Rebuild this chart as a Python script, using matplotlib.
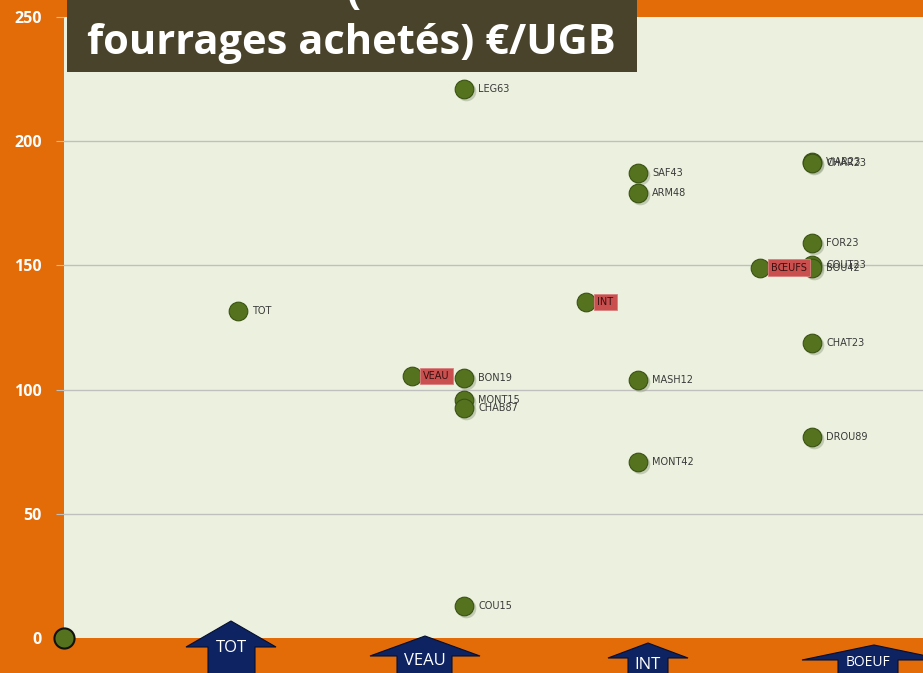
import numpy as np
import matplotlib.pyplot as plt
from matplotlib.patches import Polygon, Rectangle

W, H = 923, 673

# farms: x position, value, label
farm_x = [2.3, 2.3, 2.3, 2.3, 2.3,
          3.3, 3.3, 3.3, 3.3,
          4.3, 4.3, 4.3, 4.3, 4.3, 4.3, 4.3]
farm_y = [221.0, 104.7, 95.8, 92.6, 12.9,
          187.2, 179.1, 103.9, 70.9,
          191.6, 191.2, 159.0, 150.2, 149.0, 118.8, 80.9]
farm_names = ['LEG63', 'BON19', 'MONT15', 'CHAB87', 'COU15',
              'SAF43', 'ARM48', 'MASH12', 'MONT42',
              'VIAR23', 'CHAR23', 'FOR23', 'COUT23', 'BOU42', 'CHAT23', 'DROU89']

# group averages
avg_x = [1, 2, 3, 4]
avg_y = [131.6, 105.5, 135.3, 149.0]
avg_names = ['TOT', 'VEAU', 'INT', 'BŒUFS']
avg_boxed = [False, True, True, True]

yticks = [0, 50, 100, 150, 200, 250]
arrow_labels = ['TOT', 'VEAU', 'INT', 'BOEUF']

orange = '#E36C09'
plot_bg = '#EBF1DE'
dot = '#55731F'
dot_edge = '#3A5212'
navy = '#0E2361'

fig = plt.figure(figsize=(W / 100, H / 100), dpi=100)
fig.patch.set_facecolor(orange)

def fx(px):
    return px / W

def fy(py):
    return 1 - py / H

ax = fig.add_axes([fx(64), fy(638), 1 - fx(64), fy(17) - fy(638)])
ax.set_facecolor(plot_bg)
ax.set_xlim(0, (W - 64) / 174)
ax.set_ylim(0, 250)
for s in ax.spines.values():
    s.set_visible(False)
ax.set_xticks([])
ax.set_yticks(yticks)
ax.set_yticklabels([str(t) for t in yticks], color='white', fontsize=11.5,
                   fontweight='bold', family='Open Sans')
ax.tick_params(axis='y', length=6, color='#BFBFBF', pad=10)
for t in yticks[1:-1]:
    ax.axhline(t, color='#BFBFBF', lw=1, zorder=1)

# shadow + dots
ax.scatter(np.array(farm_x) + 0.012, np.array(farm_y) - 0.9, s=200, color='#9aa58a',
           alpha=0.5, zorder=2, lw=0)
ax.scatter(farm_x, farm_y, s=180, color=dot, edgecolor=dot_edge, lw=0.8, zorder=3)
ax.scatter(avg_x, avg_y, s=180, color=dot, edgecolor=dot_edge, lw=0.8, zorder=3)
ax.scatter([0], [0], s=210, color=dot, edgecolor='#111111', lw=1.5, zorder=4,
           clip_on=False)

for x, y, n in zip(farm_x, farm_y, farm_names):
    ax.annotate(n, (x, y), xytext=(10, 0), textcoords='offset points',
                va='center', ha='left', fontsize=7, color='#3A3A3A', zorder=5)

for x, y, n, b in zip(avg_x, avg_y, avg_names, avg_boxed):
    if b:
        ax.annotate(n, (x, y), xytext=(8, 0), textcoords='offset points',
                    va='center', ha='left', fontsize=7, color='#3A1010', zorder=5,
                    bbox=dict(boxstyle='square,pad=0.35', fc='#C9504F', ec='#D98080', lw=0.6))
    else:
        ax.annotate(n, (x, y), xytext=(10, 0), textcoords='offset points',
                    va='center', ha='left', fontsize=7, color='#3A3A3A', zorder=5)

# title box
fig.patches.append(Rectangle((fx(67), fy(72)), fx(637) - fx(67), fy(0) - fy(72),
                             transform=fig.transFigure, fc='#4A432B', ec='none', zorder=10))
fig.text(fx(351), fy(44), 'fourrages achetés) €/UGB', ha='center', va='center',
         color='white', fontsize=30, fontweight='bold', family='Open Sans', zorder=11)
fig.text(fx(353), fy(14), '(', ha='center', va='bottom', color='white',
         fontsize=30, fontweight='bold', family='Open Sans', zorder=11)

# arrows along the bottom
arrows = [  # head left, head right, tip y, head base y, shaft left, shaft right, label y
    (186, 276, 621, 647, 208, 255, 648),
    (370, 480, 636, 656, 397, 452, 661),
    (608, 688, 643, 658, 628, 668, 665),
    (802, 946, 645, 660, 838, 898, 663),
]
for (hl, hr, tip, hb, sl, sr, ly), lab in zip(arrows, arrow_labels):
    pts = [(hl, hb), ((hl + hr) / 2, tip), (hr, hb), (sr, hb), (sr, H + 2), (sl, H + 2), (sl, hb)]
    fig.patches.append(Polygon([(fx(a), fy(b)) for a, b in pts], closed=True,
                               transform=fig.transFigure, fc=navy, ec='#050F30',
                               lw=0.8, zorder=10))
    fig.text(fx((sl + sr) / 2), fy(ly), lab, ha='center', va='center', color='white',
             fontsize=12 if lab != 'BOEUF' else 10, family='Open Sans', zorder=11)

fig.savefig('out.png', dpi=100, facecolor=fig.get_facecolor())
